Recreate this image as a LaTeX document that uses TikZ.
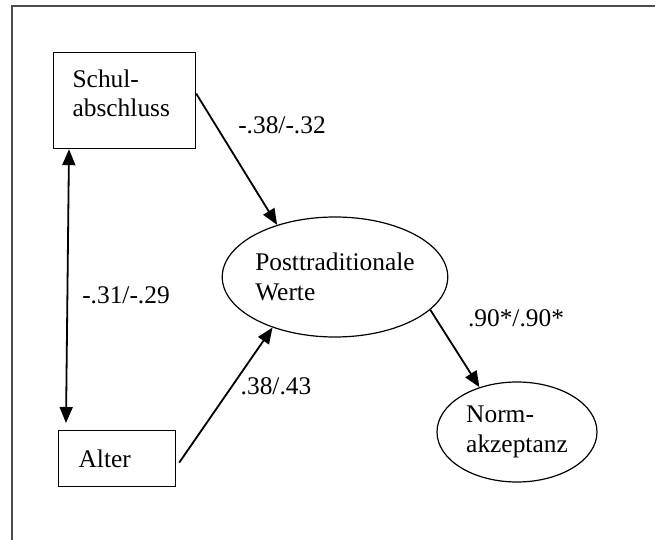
\documentclass[tikz,border=0pt]{standalone}
\usepackage{fontspec}
\setmainfont{Liberation Serif}
\usetikzlibrary{shapes.geometric,arrows.meta}

\begin{document}
\begin{tikzpicture}[x=1bp,y=-1bp,>={Triangle[length=16bp,width=13bp]},
  every node/.style={font=\fontsize{25.5}{30}\selectfont},
  box/.style={draw,line width=1.2bp,rectangle,anchor=north west,align=left,inner xsep=19bp},
  latent/.style={draw,line width=1.2bp,ellipse,align=left,inner sep=0pt},
  pfeil/.style={line width=1.8bp}]
\clip (0,0) rectangle (655,540);
\draw[line width=2bp,black!70] (12,6) rectangle (700,600);

\node[box,minimum width=142bp,minimum height=96bp,text width=104bp] (schul) at (53,52) {Schul-\\abschluss\\[-15bp]~};
\node[box,minimum width=117bp,minimum height=56bp,text width=77bp] (alter) at (58,430) {Alter};
\node[latent,minimum width=210bp,minimum height=120bp] (post) at (335,277) {Posttraditionale\\Werte};
\node[latent,minimum width=160bp,minimum height=100bp] (norm) at (517,432) {Norm-\\akzeptanz};

\draw[pfeil,<->] ([xshift=16bp]schul.south west) -- ([xshift=8bp,yshift=7bp]alter.north west);
\draw[pfeil,->] ([yshift=7bp]schul.east) -- (post.138);
\draw[pfeil,->] ([xshift=3bp,yshift=-4bp]alter.east) -- (post.219);
\draw[pfeil,->] (post.341) -- (norm.130);

\node at (282,125) {-.38/-.32};
\node at (126,295) {-.31/-.29};
\node at (516,318) {.90*/.90*};
\node at (276,386) {.38/.43};
\end{tikzpicture}
\end{document}
